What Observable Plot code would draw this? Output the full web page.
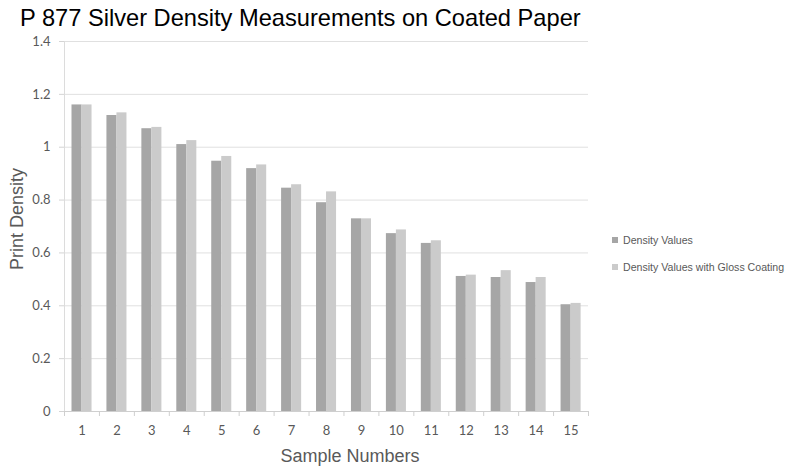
<!DOCTYPE html>
<html>
<head>
<meta charset="utf-8">
<script src="https://cdn.jsdelivr.net/npm/d3@7"></script>
<script src="https://cdn.jsdelivr.net/npm/@observablehq/plot@0.6"></script>
<style>
  html, body { margin: 0; padding: 0; background: #fff; }
  #chart { position: relative; width: 790px; height: 468px; overflow: hidden; font-family: "Liberation Sans", Arial, sans-serif; }
  #chart svg { position: absolute; left: 0; top: 0; }
  .title { position: absolute; left: 20px; top: 3px; font-size: 24px; color: #000; white-space: nowrap; line-height: 30px;
           transform-origin: left center; transform: scaleX(0.985); }
  .ytitle { position: absolute; left: 17px; top: 219px; font-size: 18px; color: #595959; white-space: nowrap;
            transform: translate(-50%, -50%) rotate(-90deg); line-height: 20px; }
  .xtitle { position: absolute; left: 350px; top: 446px; font-size: 18px; color: #595959; white-space: nowrap;
            transform: translateX(-50%); line-height: 20px; }
  .legend { position: absolute; left: 612px; top: 231px; font-size: 10.6px; color: #595959; }
  .legend .item { display: flex; align-items: center; height: 18px; margin-bottom: 9px; white-space: nowrap; }
  .legend .sw { width: 6px; height: 6px; margin-right: 5px; flex: none; }
</style>
</head>
<body>
<div id="chart">
  <div class="title">P 877 Silver Density Measurements on Coated Paper</div>
  <div class="ytitle">Print Density</div>
  <div class="xtitle">Sample Numbers</div>
  <div class="legend" id="legend"></div>
</div>
<script>
// Sample numbers along the x axis
const samples = [1, 2, 3, 4, 5, 6, 7, 8, 9, 10, 11, 12, 13, 14, 15];
// Print density without coating
const densityValues = [1.16, 1.12, 1.07, 1.01, 0.947, 0.919, 0.845, 0.79, 0.729, 0.673, 0.636, 0.511, 0.507, 0.488, 0.404];
// Print density with gloss coating
const glossValues = [1.16, 1.13, 1.075, 1.025, 0.965, 0.933, 0.858, 0.831, 0.729, 0.687, 0.646, 0.516, 0.533, 0.507, 0.409];
// Y axis ticks
const yTicks = [0, 0.2, 0.4, 0.6, 0.8, 1, 1.2, 1.4];
const seriesNames = ["Density Values", "Density Values with Gloss Coating"];
const seriesColors = ["#a6a6a6", "#cbcbcb"];

const rows = samples.map((s, i) => ({sample: s, dark: densityValues[i], light: glossValues[i]}));
// category boundaries where the x axis carries its small tick marks
const boundaries = d3.range(samples.length + 1).map(i => samples[0] - 0.5 + i);

const plot = Plot.plot({
  width: 790,
  height: 468,
  marginLeft: 64,
  marginRight: 202,
  marginTop: 41,
  marginBottom: 57,
  style: {fontFamily: "Lato, 'Open Sans', sans-serif", fontSize: "13px", color: "#595959", background: "transparent"},
  x: {domain: [0.5, 15.5], ticks: samples, tickFormat: d => String(d), tickSize: 0, tickPadding: 14, label: null},
  y: {domain: [0, 1.4], ticks: yTicks, tickFormat: d => String(+d.toFixed(1)), tickSize: 0, tickPadding: 14, label: null},
  marks: [
    Plot.ruleY(yTicks.filter(d => d > 0), {stroke: "#e0e0e0", strokeWidth: 1}),
    // small tick marks left of the value axis
    Plot.ruleY(yTicks, {x1: 0.5, x2: 0.5, insetLeft: -5, stroke: "#d4d4d4"}),
    Plot.ruleX([0.5], {stroke: "#dcdcdc"}),
    Plot.rectY(rows, {x1: d => d.sample - 0.5, x2: d => d.sample + 0.5, y1: 0, y2: "dark",
                      insetLeft: 7.5, insetRight: 17.4, fill: seriesColors[0]}),
    Plot.rectY(rows, {x1: d => d.sample - 0.5, x2: d => d.sample + 0.5, y1: 0, y2: "light",
                      insetLeft: 17.5, insetRight: 7.4, fill: seriesColors[1]}),
    Plot.ruleY([0], {stroke: "#cfcfcf"}),
    Plot.ruleX(boundaries, {y1: 0, y2: 0, insetBottom: -5, stroke: "#cfcfcf"})
  ]
});
document.getElementById("chart").prepend(plot);

const legend = document.getElementById("legend");
seriesNames.forEach((name, i) => {
  const item = document.createElement("div");
  item.className = "item";
  const sw = document.createElement("span");
  sw.className = "sw";
  sw.style.background = seriesColors[i];
  const label = document.createElement("span");
  label.textContent = name;
  item.append(sw, label);
  legend.append(item);
});
</script>
</body>
</html>
